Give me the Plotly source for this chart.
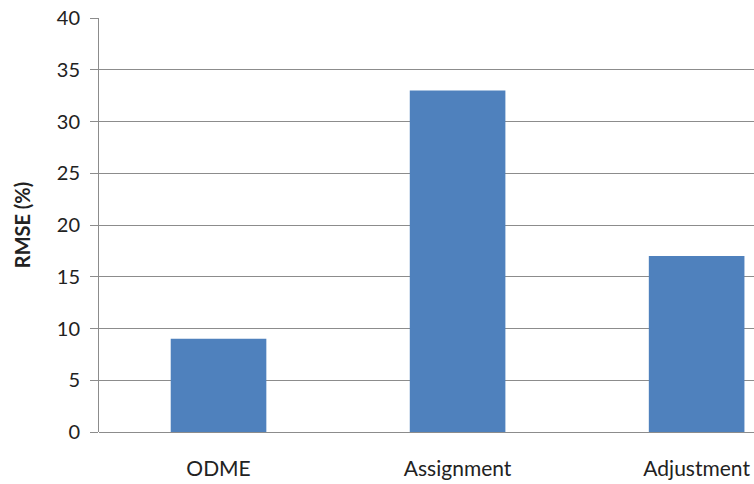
import plotly.graph_objects as go

categories = ["ODME", "Assignment", "Adjustment"]
rmse = [9, 33, 17]
y_ticks = [0, 5, 10, 15, 20, 25, 30, 35, 40]

grid = "#8c8c8c"
font = "Lato, 'Open Sans', sans-serif"

fig = go.Figure(go.Bar(
    x=categories, y=rmse, width=0.4,
    marker=dict(color="#4F81BD", line=dict(width=0)),
))

fig.update_layout(
    width=754, height=484,
    margin=dict(l=99, r=0, t=18, b=52),
    paper_bgcolor="white", plot_bgcolor="white",
    showlegend=False,
    font=dict(family=font, size=20, color="#222"),
    xaxis=dict(
        range=[-0.5, 2.24], showgrid=False, showline=False, zeroline=False,
        ticks="", ticklabelstandoff=22, tickfont=dict(size=21),
    ),
    yaxis=dict(
        range=[0, 40], tickvals=y_ticks, showgrid=True, gridcolor=grid, gridwidth=1,
        zeroline=True, zerolinecolor=grid, zerolinewidth=1,
        showline=True, linecolor=grid, linewidth=1,
        ticks="outside", ticklen=8, tickcolor=grid,
        ticklabelstandoff=6, tickfont=dict(size=20),
        title=dict(text="<b>RMSE (%)</b>", font=dict(size=20), standoff=20),
    ),
)

fig.write_html("out.html")
